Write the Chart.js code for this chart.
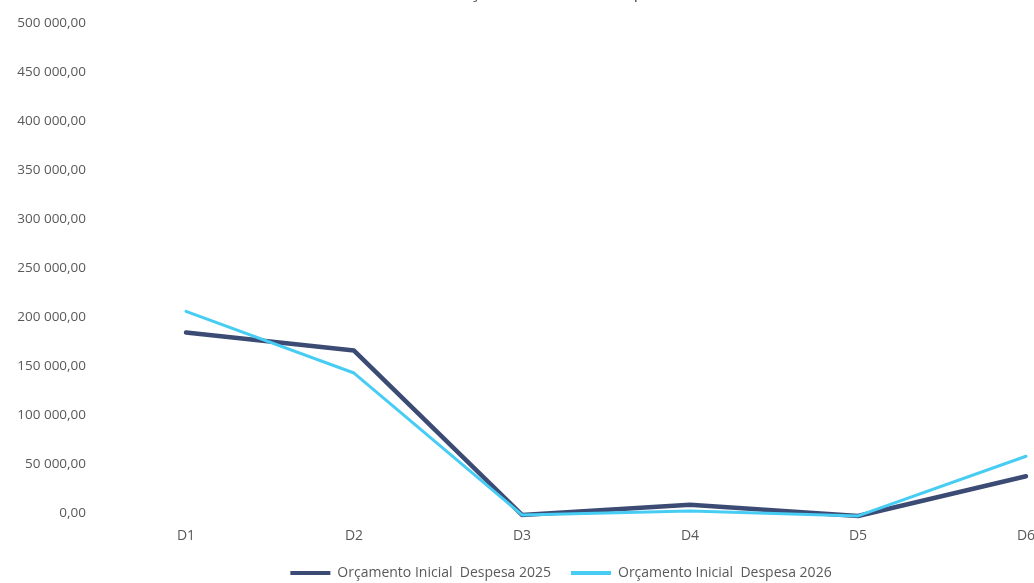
<!DOCTYPE html>
<html>
<head>
<meta charset="utf-8">
<script src="https://cdn.jsdelivr.net/npm/chart.js@4.4.1/dist/chart.umd.min.js"></script>
<style>
  html, body { margin: 0; padding: 0; background: #ffffff; overflow: hidden; width: 1034px; height: 583px; }
  #wrap { position: absolute; left: 0; top: -18px; width: 1114px; height: 608px; }
</style>
</head>
<body>
<div id="wrap"><canvas id="c"></canvas></div>
<script>
const titleText = "Orçamento Inicial Despesa";
const categories = ["D1", "D2", "D3", "D4", "D5", "D6"];
const seriesNames = ["Orçamento Inicial  Despesa 2025", "Orçamento Inicial  Despesa 2026"];
const values2025 = [184500, 166000, -2000, 8500, -3000, 37500];
const values2026 = [206000, 143000, -2000, 2000, -3000, 58000];
const yTicks = [0, 50000, 100000, 150000, 200000, 250000, 300000, 350000, 400000, 450000, 500000];

function fmt(v) {
  const s = Math.round(v).toString().replace(/\B(?=(\d{3})+(?!\d))/g, " ");
  return s + ",00";
}

const FONT = "'Open Sans', 'DejaVu Sans', sans-serif";
const GREY = "#595959";

new Chart(document.getElementById("c"), {
  type: "line",
  data: {
    labels: categories,
    datasets: [
      {
        label: seriesNames[0],
        data: values2025,
        borderColor: "#3b4b74",
        backgroundColor: "#3b4b74",
        borderWidth: 4.5,
        pointRadius: 0,
        pointHoverRadius: 0,
        tension: 0,
        order: 1,
        clip: false,
        borderCapStyle: "round",
        borderJoinStyle: "round"
      },
      {
        label: seriesNames[1],
        data: values2026,
        borderColor: "#47cdf3",
        backgroundColor: "#47cdf3",
        borderWidth: 3,
        pointRadius: 0,
        pointHoverRadius: 0,
        tension: 0,
        order: 0,
        clip: false,
        borderCapStyle: "round",
        borderJoinStyle: "round"
      }
    ]
  },
  options: {
    responsive: true,
    maintainAspectRatio: false,
    animation: false,
    layout: { padding: { left: 12, right: 4, top: 0, bottom: 0 } },
    plugins: {
      tooltip: { enabled: false },
      title: {
        display: true,
        text: titleText,
        color: GREY,
        font: { family: FONT, size: 18, weight: "normal" },
        padding: { top: 0, bottom: 20 }
      },
      legend: {
        display: true,
        position: "bottom",
        labels: {
          color: GREY,
          font: { family: FONT, size: 14 },
          boxWidth: 40,
          boxHeight: 4,
          padding: 20,
          sort: function(a, b) { return a.datasetIndex - b.datasetIndex; },
          generateLabels: function(chart) {
            const items = Chart.defaults.plugins.legend.labels.generateLabels(chart);
            items.forEach(it => { it.lineWidth = 0; });
            return items;
          }
        }
      }
    },
    scales: {
      x: {
        type: "category",
        offset: true,
        afterFit: function(scale) { scale.height = 33; },
        grid: { display: false, drawTicks: false },
        border: { display: false },
        ticks: { color: GREY, font: { family: FONT, size: 14 }, padding: 15, maxRotation: 0 }
      },
      y: {
        min: 0,
        max: 500000,
        afterFit: function(scale) { scale.width = 90; },
        afterBuildTicks: function(scale) { scale.ticks = yTicks.map(v => ({ value: v })); },
        grid: { display: false, drawTicks: false },
        border: { display: false },
        ticks: {
          color: GREY,
          font: { family: FONT, size: 13.5 },
          padding: 16,
          callback: function(v) { return fmt(v); }
        }
      }
    }
  }
});
</script>
</body>
</html>
